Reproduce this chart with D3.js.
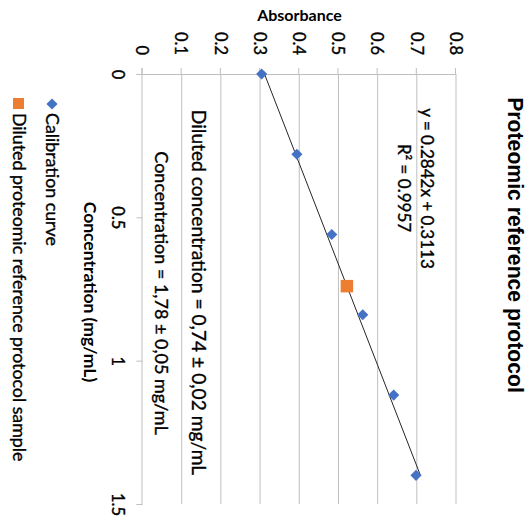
<!DOCTYPE html>
<html>
<head>
<meta charset="utf-8">
<script src="https://d3js.org/d3.v7.min.js"></script>
<style>
  html, body { margin: 0; padding: 0; background: #fff; }
  svg { display: block; }
</style>
</head>
<body>
<svg id="chart" width="529" height="523"></svg>
<script>
// ---- data ----
const title = "Proteomic reference protocol";
const xTitle = "Concentration (mg/mL)";
const yTitle = "Absorbance";
const calibConc = [0, 0.28, 0.56, 0.84, 1.12, 1.40];
const calibAbs  = [0.304, 0.394, 0.483, 0.562, 0.641, 0.698];
const sampleConc = [0.74];
const sampleAbs  = [0.5216];
const trendSlope = 0.2842;
const trendIntercept = 0.3113;
const trendRange = [0, 1.40];
const xTicks = [0, 0.5, 1, 1.5];
const yTicks = [0, 0.1, 0.2, 0.3, 0.4, 0.5, 0.6, 0.7, 0.8];
const legendLabels = ["Calibration curve", "Diluted proteomic reference protocol sample"];
const eqLabel = "y = 0.2842x + 0.3113";
const r2Label = "R\u00B2 = 0.9957";
const note1 = "Diluted concentration = 0,74 \u00B1 0,02 mg/mL";
const note2 = "Concentration = 1,78 \u00B1 0,05 mg/mL";

// ---- drawing (chart drawn in its original orientation, then rotated 90° clockwise) ----
const svg = d3.select("#chart");
const SW = 529;
const g = svg.append("g").attr("transform", `translate(${SW},0) rotate(90)`);

const x = d3.scaleLinear().domain([0, 1.5]).range([74, 504]);
const y = d3.scaleLinear().domain([0, 0.8]).range([386.5, 73]);

const FONT = "Lato, 'Open Sans', sans-serif";
const gridColor = "#bfbfbf";
const thicken = sel => sel.attr("stroke", "#000").attr("stroke-width", 0.35);

// gridlines
g.append("g").selectAll("line").data(yTicks.filter(d => d > 0)).join("line")
  .attr("x1", x(0)).attr("x2", x(1.5))
  .attr("y1", d => y(d)).attr("y2", d => y(d))
  .attr("stroke", gridColor).attr("stroke-width", 1);

// y axis (absorbance)
const yAxis = g.append("g").attr("transform", `translate(${x(0)},0)`)
  .call(d3.axisLeft(y).tickValues(yTicks).tickSize(6).tickPadding(13)
        .tickFormat(d => d === 0 ? "0" : d3.format(".1f")(d)));
yAxis.select(".domain").attr("stroke", gridColor);
yAxis.selectAll(".tick line").attr("stroke", gridColor);
yAxis.selectAll(".tick text").attr("font-family", FONT).attr("font-size", 16.5).attr("fill", "#000")
  .attr("dy", "0.35em").call(thicken);

// x axis (concentration)
const xAxis = g.append("g").attr("transform", `translate(0,${y(0)})`)
  .call(d3.axisBottom(x).tickValues(xTicks).tickSize(6).tickPadding(13)
        .tickFormat(d => String(d)));
xAxis.select(".domain").attr("stroke", gridColor);
xAxis.selectAll(".tick line").attr("stroke", gridColor);
xAxis.selectAll(".tick text").attr("font-family", FONT).attr("font-size", 16.5).attr("fill", "#000")
  .attr("dy", "0.71em").call(thicken);

// trendline
const line = d3.line().x(d => x(d)).y(d => y(trendSlope * d + trendIntercept));
g.append("path").attr("d", line(trendRange))
  .attr("fill", "none").attr("stroke", "#262626").attr("stroke-width", 1);

// calibration points (diamonds)
const diamond = d3.symbol().type(d3.symbolSquare).size(62);
g.append("g").selectAll("path").data(calibConc.map((c, i) => [c, calibAbs[i]])).join("path")
  .attr("d", diamond)
  .attr("transform", d => `translate(${x(d[0])},${y(d[1])}) rotate(45)`)
  .attr("fill", "#4472C4");

// sample point (square)
const square = d3.symbol().type(d3.symbolSquare).size(156);
g.append("g").selectAll("path").data(sampleConc.map((c, i) => [c, sampleAbs[i]])).join("path")
  .attr("d", square)
  .attr("transform", d => `translate(${x(d[0])},${y(d[1])})`)
  .attr("fill", "#ED7D31");

// title
g.append("text").attr("x", 245).attr("y", 21).attr("text-anchor", "middle")
  .attr("font-family", "'Liberation Sans', Arial, sans-serif").attr("font-weight", "bold")
  .attr("font-size", 21.2).attr("fill", "#000").text(title);

// y axis title
g.append("text").attr("transform", `translate(21,${529 - 299.5}) rotate(-90)`)
  .attr("text-anchor", "middle").attr("font-family", FONT).attr("font-weight", "bold")
  .attr("font-size", 16).attr("fill", "#000").text(yTitle);

// x axis title
g.append("text").attr("x", 292).attr("y", 445).attr("text-anchor", "middle")
  .attr("font-family", FONT).attr("font-weight", "bold")
  .attr("font-size", 17.5).attr("fill", "#000").text(xTitle);

// equation & R²
g.append("text").attr("x", 188.5).attr("y", 108).attr("text-anchor", "middle")
  .attr("font-family", FONT).attr("font-size", 17).attr("fill", "#000").text(eqLabel).call(thicken);
g.append("text").attr("x", 188).attr("y", 131).attr("text-anchor", "middle")
  .attr("font-family", FONT).attr("font-size", 17).attr("fill", "#000").text(r2Label).call(thicken);

// notes
g.append("text").attr("x", 292.5).attr("y", 337).attr("text-anchor", "middle")
  .attr("font-family", FONT).attr("font-size", 19.2).attr("fill", "#000").text(note1).call(thicken);
g.append("text").attr("x", 293).attr("y", 374).attr("text-anchor", "middle")
  .attr("font-family", FONT).attr("font-size", 18).attr("fill", "#000").text(note2).call(thicken);

// legend
const leg = g.append("g");
leg.append("path").attr("d", diamond).attr("transform", "translate(104,477) rotate(45)").attr("fill", "#4472C4");
leg.append("text").attr("x", 113).attr("y", 483.5).attr("font-family", FONT).attr("font-size", 17.8)
  .attr("fill", "#000").text(legendLabels[0]).call(thicken);
leg.append("path").attr("d", d3.symbol().type(d3.symbolSquare).size(121))
  .attr("transform", "translate(103.5,510.5)").attr("fill", "#ED7D31");
leg.append("text").attr("x", 113).attr("y", 516).attr("font-family", FONT).attr("font-size", 17.8)
  .attr("fill", "#000").text(legendLabels[1]).call(thicken);
</script>
</body>
</html>
